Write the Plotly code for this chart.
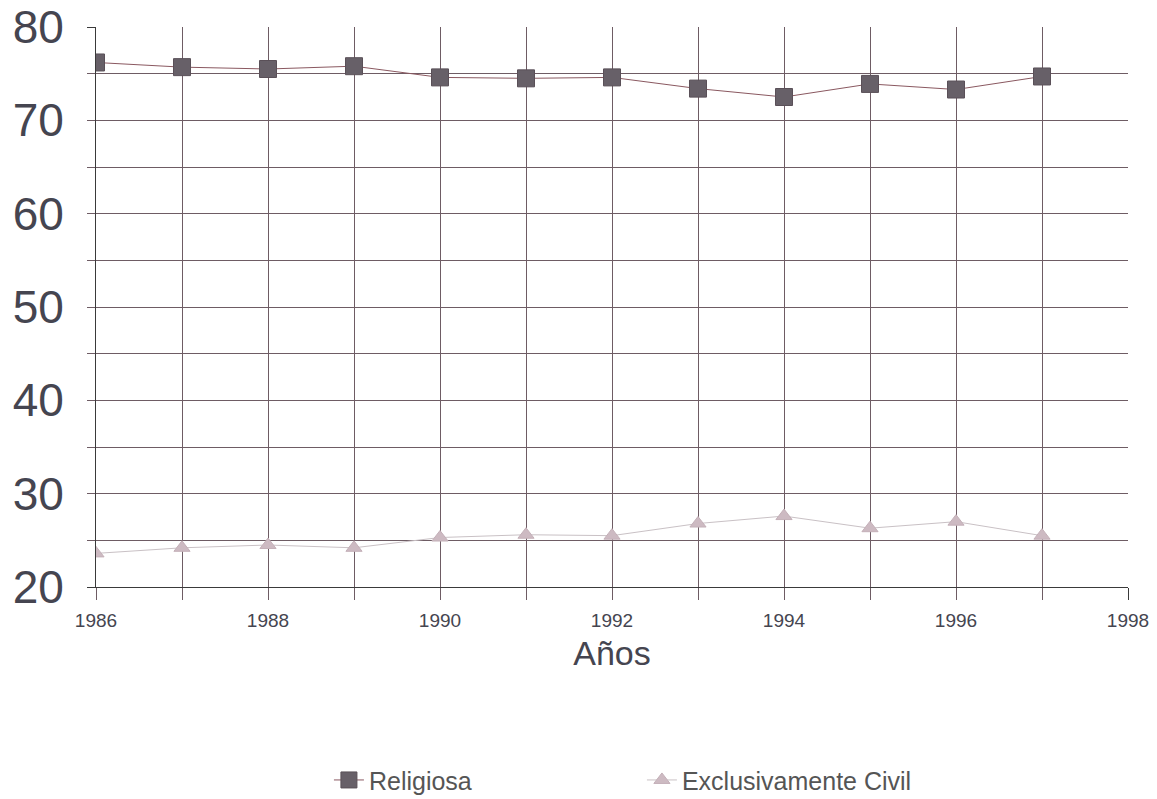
import plotly.graph_objects as go

years = [1986, 1987, 1988, 1989, 1990, 1991, 1992, 1993, 1994, 1995, 1996, 1997]
religiosa = [76.2, 75.7, 75.5, 75.8, 74.6, 74.5, 74.6, 73.4, 72.5, 73.9, 73.3, 74.7]
civil = [23.6, 24.2, 24.5, 24.2, 25.3, 25.6, 25.5, 26.8, 27.6, 26.3, 27.0, 25.5]

x_labels = [1986, 1988, 1990, 1992, 1994, 1996, 1998]
y_labels = [20, 30, 40, 50, 60, 70, 80]
x_grid = [1986, 1987, 1988, 1989, 1990, 1991, 1992, 1993, 1994, 1995, 1996, 1997]
y_grid = [25, 30, 35, 40, 45, 50, 55, 60, 65, 70, 75]

FONT = "Liberation Sans, Arial, sans-serif"
GRID = "#6e5c64"
AXIS = "#3a3a3a"
TXT = "#454550"

fig = go.Figure()
# empty helper traces so the overlay grid axes are drawn
fig.add_trace(go.Scatter(x=[], y=[], xaxis="x2", yaxis="y", showlegend=False, hoverinfo="skip"))
fig.add_trace(go.Scatter(x=[], y=[], xaxis="x", yaxis="y2", showlegend=False, hoverinfo="skip"))

fig.add_trace(go.Scatter(
    x=years, y=religiosa, name="Religiosa", mode="lines+markers",
    line=dict(color="#8a5860", width=1),
    marker=dict(symbol="square", size=17, color="#676068",
                line=dict(color="#5a5058", width=1)),
))
fig.add_trace(go.Scatter(
    x=years, y=civil, name="Exclusivamente Civil", mode="lines+markers",
    line=dict(color="#c9c1c5", width=1),
    marker=dict(symbol="triangle-up", size=14, color="#cdbac2",
                line=dict(color="#c4b0b8", width=1)),
))

fig.update_layout(
    width=1149, height=791,
    margin=dict(l=88, r=29, t=19, b=212, autoexpand=False),
    paper_bgcolor="white", plot_bgcolor="white",
    font=dict(family=FONT, color=TXT),
    showlegend=True,
    legend=dict(orientation="h", x=0.529, xanchor="center", y=-0.345, yanchor="middle",
                font=dict(size=25, color="#555"), entrywidth=268),
    xaxis=dict(
        range=[1986, 1998], tickmode="array", tickvals=x_labels,
        ticktext=[str(v) for v in x_labels], automargin=False,
        ticks="outside", ticklen=12, tickcolor=AXIS, tickwidth=1,
        showgrid=False, zeroline=False, showline=True, linecolor=AXIS, linewidth=1,
        tickfont=dict(size=19, color=TXT), ticklabelstandoff=4, ticklabeloverflow="allow",
        title=dict(text="Años", font=dict(size=34, color=TXT), standoff=11),
    ),
    xaxis2=dict(
        overlaying="x", anchor="y", side="bottom", range=[1986, 1998], automargin=False,
        tickmode="array", tickvals=x_grid, showticklabels=False,
        ticks="outside", ticklen=12, tickcolor=GRID,
        showgrid=True, gridcolor=GRID, gridwidth=1, zeroline=False, showline=False,
    ),
    yaxis=dict(
        range=[20, 80], tickmode="array", tickvals=y_labels, automargin=False,
        ticks="outside", ticklen=8, tickcolor=AXIS,
        showgrid=False, zeroline=False, showline=True, linecolor=AXIS, linewidth=1,
        tickfont=dict(size=46, color=TXT), ticklabelstandoff=14, ticklabeloverflow="allow",
    ),
    yaxis2=dict(
        overlaying="y", anchor="x", side="left", range=[20, 80], automargin=False,
        tickmode="array", tickvals=y_grid, showticklabels=False,
        ticks="outside", ticklen=8, tickcolor=GRID,
        showgrid=True, gridcolor=GRID, gridwidth=1, zeroline=False, showline=False,
    ),
)

fig.write_html("out.html")
